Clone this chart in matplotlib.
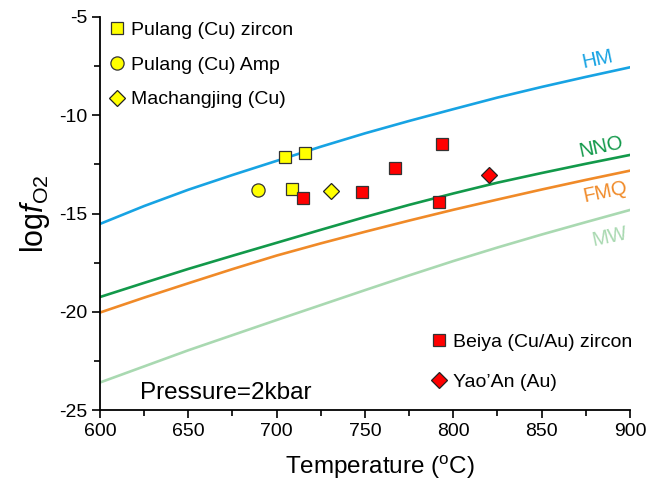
import matplotlib
matplotlib.use("Agg")
import matplotlib.pyplot as plt
from matplotlib.lines import Line2D
from matplotlib.ticker import MultipleLocator

plt.rcParams['font.family'] = ['Liberation Sans', 'DejaVu Sans']
plt.rcParams['axes.unicode_minus'] = False
plt.rcParams['mathtext.fontset'] = 'custom'
plt.rcParams['mathtext.rm'] = 'Liberation Sans'
plt.rcParams['mathtext.it'] = 'Liberation Sans:italic'

# Buffer curves
temps = [600, 625, 650, 675, 700, 725, 750, 775, 800, 825, 850, 875, 900]
hm = [-15.53, -14.62, -13.79, -13.04, -12.32, -11.60, -10.92, -10.29, -9.69, -9.10, -8.56, -8.05, -7.56]
nno = [-19.25, -18.53, -17.82, -17.15, -16.49, -15.83, -15.18, -14.56, -13.98, -13.43, -12.94, -12.47, -12.02]
fmq = [-20.04, -19.28, -18.55, -17.83, -17.14, -16.52, -15.93, -15.36, -14.81, -14.29, -13.78, -13.29, -12.82]
mw = [-23.60, -22.78, -21.96, -21.19, -20.42, -19.66, -18.90, -18.15, -17.42, -16.73, -16.07, -15.44, -14.82]

# Samples
pulang_zr_t = [704.7, 716.0, 708.5]
pulang_zr_f = [-12.11, -11.94, -13.75]
pulang_amp_t = [689.6]
pulang_amp_f = [-13.80]
machang_t = [730.6]
machang_f = [-13.84]
beiya_t = [714.7, 748.3, 767.0, 793.8, 792.1]
beiya_f = [-14.23, -13.89, -12.70, -11.46, -14.43]
yaoan_t = [820.4]
yaoan_f = [-13.02]

c_hm = '#17A3E3'
c_nno = '#12994A'
c_fmq = '#F08A28'
c_mw = '#A9D9B1'

fig = plt.figure(figsize=(6.59, 4.80), dpi=100)
ax = fig.add_axes([0.1517, 0.1458, 0.8043, 0.8188])

ax.plot(temps, hm, color=c_hm, lw=1.9)
ax.plot(temps, nno, color=c_nno, lw=1.9)
ax.plot(temps, fmq, color=c_fmq, lw=1.9)
ax.plot(temps, mw, color=c_mw, lw=1.9)

lab = dict(fontsize=14.5, rotation=12, ha='center', va='center')
ax.text(881.6, -7.14, 'HM', color=c_hm, **lab)
ax.text(883.9, -11.62, 'NNO', color=c_nno, **lab)
ax.text(886.2, -13.91, 'FMQ', color=c_fmq, **lab)
ax.text(888.7, -16.20, 'MW', color=c_mw, **lab)

sq = dict(marker='s', ms=8, mec='#333333', mew=0.9, ls='none')
ci = dict(marker='o', ms=9.5, mec='#333333', mew=0.9, ls='none')
di = dict(marker='D', ms=8, mec='#222222', mew=0.9, ls='none')
ax.plot(pulang_zr_t, pulang_zr_f, mfc='#FFFF00', **sq)
ax.plot(pulang_amp_t, pulang_amp_f, mfc='#FFFF00', **ci)
ax.plot(machang_t, machang_f, mfc='#FFFF00', **di)
ax.plot(beiya_t, beiya_f, mfc='#FF0000', **sq)
ax.plot(yaoan_t, yaoan_f, mfc='#FF0000', **di)

h1 = [Line2D([], [], mfc='#FFFF00', **sq),
      Line2D([], [], mfc='#FFFF00', **ci),
      Line2D([], [], mfc='#FFFF00', **di)]
l1 = ax.legend(h1, ['Pulang (Cu) zircon', 'Pulang (Cu) Amp', 'Machangjing (Cu)'],
               loc='upper left', bbox_to_anchor=(0.0174, 0.9893), frameon=False,
               fontsize=14, handlelength=0.8, handletextpad=0.32, labelspacing=0.885,
               borderaxespad=0, borderpad=0)
ax.add_artist(l1)
h2 = [Line2D([], [], mfc='#FF0000', **sq),
      Line2D([], [], mfc='#FF0000', **di)]
ax.legend(h2, ['Beiya (Cu/Au) zircon', "Yao\u2019An (Au)"],
          loc='lower left', bbox_to_anchor=(0.625, 0.0496), frameon=False,
          fontsize=14, handlelength=0.8, handletextpad=0.32, labelspacing=1.15,
          borderaxespad=0, borderpad=0)

ax.text(0.075, 0.028, 'Pressure=2kbar', transform=ax.transAxes, fontsize=17.5,
        ha='left', va='baseline')

ax.set_xlim(600, 900)
ax.set_ylim(-25, -5)
ax.xaxis.set_major_locator(MultipleLocator(50))
ax.xaxis.set_minor_locator(MultipleLocator(25))
ax.yaxis.set_major_locator(MultipleLocator(5))
ax.yaxis.set_minor_locator(MultipleLocator(2.5))
ax.tick_params(which='major', direction='out', length=6, width=1.2, labelsize=14, pad=3)
ax.tick_params(which='minor', direction='out', length=4, width=1.2)
for s in ['top', 'right']:
    ax.spines[s].set_visible(False)
for s in ['left', 'bottom']:
    ax.spines[s].set_linewidth(1.3)

ax.set_xlabel('Temperature ($^{\\mathrm{o}}$C)', fontsize=17.5)
ax.xaxis.set_label_coords(0.528, -0.112)
ax.set_ylabel('log$f_{\\mathrm{O2}}$', fontsize=22, labelpad=5.5)

fig.savefig('out.png', dpi=100)
